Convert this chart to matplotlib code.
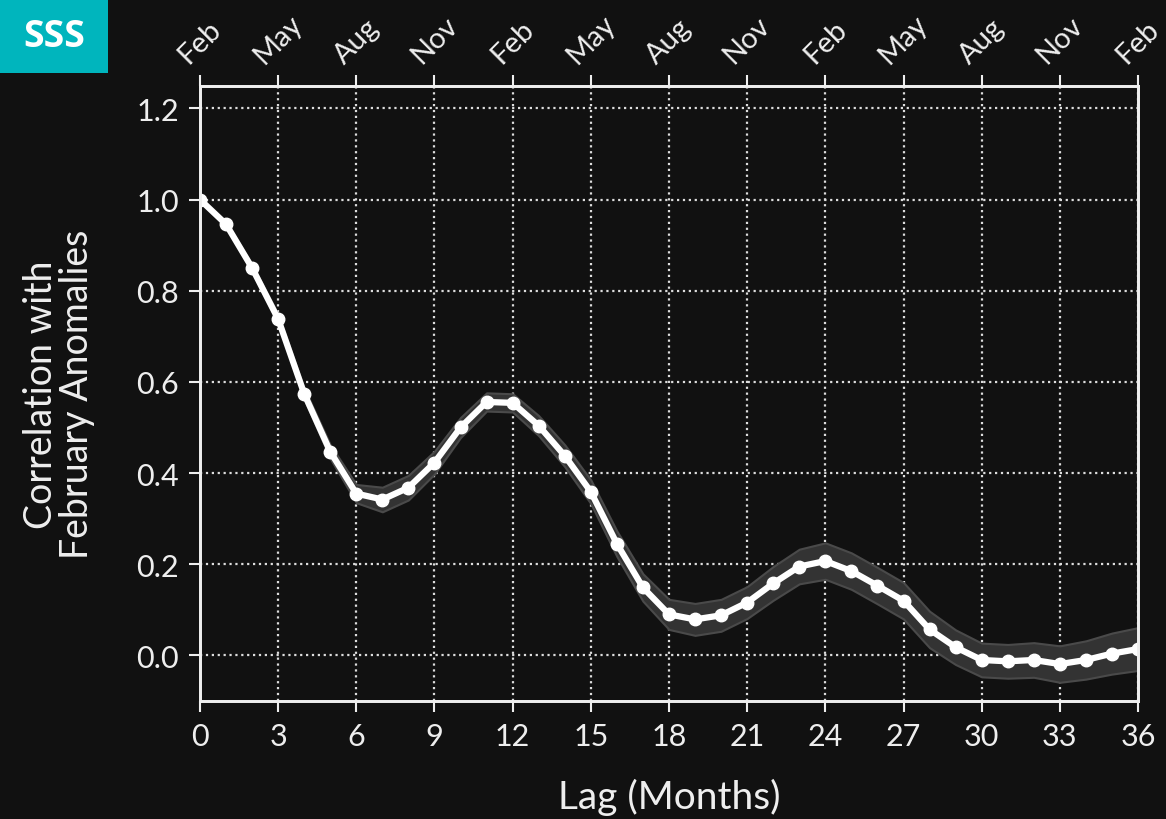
import matplotlib.pyplot as plt
import numpy as np
from matplotlib.patches import Rectangle

# Datos
lag = np.arange(0, 37)
corr = [1.00, 0.946, 0.850, 0.738, 0.574, 0.447, 0.355, 0.342, 0.368, 0.423,
        0.500, 0.556, 0.554, 0.504, 0.438, 0.359, 0.245, 0.149, 0.090, 0.079,
        0.088, 0.116, 0.158, 0.195, 0.207, 0.185, 0.153, 0.120, 0.057, 0.018,
        -0.010, -0.013, -0.010, -0.019, -0.010, 0.004, 0.014]
spread = [0.0, 0.005, 0.008, 0.010, 0.012, 0.015, 0.020, 0.027, 0.027, 0.025,
          0.022, 0.020, 0.020, 0.022, 0.024, 0.026, 0.028, 0.030, 0.033, 0.035,
          0.035, 0.035, 0.037, 0.038, 0.040, 0.040, 0.040, 0.040, 0.040, 0.038,
          0.037, 0.037, 0.038, 0.040, 0.042, 0.045, 0.047]
xticks = np.arange(0, 37, 3)
yticks = [0.0, 0.2, 0.4, 0.6, 0.8, 1.0, 1.2]
months = ['Feb', 'May', 'Aug', 'Nov'] * 3 + ['Feb']

bg = '#111111'
fg = '#eeeeee'
plt.rcParams['font.family'] = ['Lato', 'DejaVu Sans']

corr = np.array(corr)
spread = np.array(spread)

fig = plt.figure(figsize=(11.66, 8.2), dpi=100, facecolor=bg)
ax = fig.add_axes([0.1715, 0.1439, 0.8045, 0.7505], facecolor=bg)

# Banda y linea
ax.fill_between(lag, corr - spread, corr + spread, facecolor='#333333',
                edgecolor='#4a4a4a', linewidth=1.5, zorder=2)
ax.plot(lag, corr, color='white', linewidth=4.5, marker='o', markersize=9, zorder=3)

ax.set_xlim(0, 36)
ax.set_ylim(-0.1, 1.25)
ax.set_xticks(xticks)
ax.set_yticks(yticks)
ax.set_yticklabels([f'{v:.1f}' for v in yticks])
ax.grid(True, color='#dddddd', linestyle=':', linewidth=1.6, zorder=1)

for s in ax.spines.values():
    s.set_color(fg)
    s.set_linewidth(2)
ax.tick_params(colors=fg, labelcolor=fg, labelsize=22, length=8, width=1.5, pad=7)

ax.set_xlabel('Lag (Months)', color=fg, fontsize=28, labelpad=20)
ax.set_ylabel('Correlation with\nFebruary Anomalies', color=fg, fontsize=27,
              labelpad=30, linespacing=1.0)

# Eje superior con meses
ax2 = ax.twiny()
ax2.set_xlim(ax.get_xlim())
ax2.set_xticks(xticks)
ax2.set_xticklabels(months, rotation=45, ha='center')
ax2.tick_params(colors=fg, labelcolor=fg, labelsize=21, length=8, width=1.5, pad=5)
for s in ax2.spines.values():
    s.set_color(fg)
    s.set_linewidth(2)

# Etiqueta SSS
fig.patches.append(Rectangle((0, 1 - 0.09), 0.0926, 0.09, transform=fig.transFigure,
                             facecolor='#00b5bd', edgecolor='none'))
fig.text(0.0463, 1 - 0.045, 'SSS', color='white', fontsize=27, fontweight='bold',
         ha='center', va='center', family=['Open Sans', 'DejaVu Sans'])

fig.savefig('out.png', dpi=100, facecolor=bg)
